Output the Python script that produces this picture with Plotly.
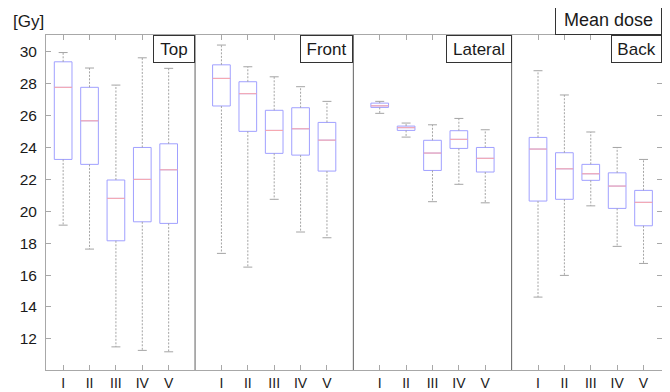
import plotly.graph_objects as go

# ---------------- data ----------------
panels = ["Top", "Front", "Lateral", "Back"]
groups = ["I", "II", "III", "IV", "V"]

# per panel, per group (I..V)
upper = [
    [29.95, 28.98, 27.91, 29.62, 28.96],
    [30.42, 29.06, 28.43, 27.81, 26.89],
    [26.89, 25.53, 25.42, 25.82, 25.11],
    [28.81, 27.29, 24.97, 24.00, 23.25],
]
q3 = [
    [29.37, 27.77, 21.96, 24.00, 24.23],
    [29.18, 28.12, 26.33, 26.49, 25.57],
    [26.78, 25.34, 24.45, 25.05, 24.00],
    [24.63, 23.67, 22.94, 22.41, 21.31],
]
median = [
    [27.77, 25.67, 20.81, 22.00, 22.60],
    [28.33, 27.37, 25.07, 25.17, 24.46],
    [26.61, 25.24, 23.65, 24.51, 23.32],
    [23.90, 22.66, 22.35, 21.58, 20.56],
]
q1 = [
    [23.25, 22.94, 18.15, 19.34, 19.24],
    [26.60, 25.01, 23.63, 23.52, 22.52],
    [26.51, 25.07, 22.56, 23.94, 22.46],
    [20.64, 20.75, 21.94, 20.18, 19.09],
]
lower = [
    [19.13, 17.63, 11.50, 11.28, 11.19],
    [17.36, 16.50, 20.75, 18.70, 18.34],
    [26.14, 24.65, 20.60, 21.69, 20.53],
    [14.62, 15.98, 20.34, 17.80, 16.73],
]
y_ticks = [12, 14, 16, 18, 20, 22, 24, 26, 28, 30]
unit_label = "[Gy]"
title_label = "Mean dose"

# ---------------- layout params ----------------
BOX_W = 0.67
CAP_HALF = 0.17
BOX_COLOR = "#a0a0ff"
MED_COLOR = "#ffa8a8"
WHISK_COLOR = "#a4a4a4"
FRAME_COLOR = "#a8a8a8"
DIV_COLOR = "#606060"
FONT = "Liberation Sans, Arial, sans-serif"
TEXT_COLOR = "#1a1a1a"

# the page body has an 8px margin, so the figure is offset by (8, 8)
OFF = 8
W, H = 670 - OFF, 392 - OFF
ML, MR, MT, MB = 46 - OFF, 8, 35 - OFF, 22
PW = W - ML - MR
PH = H - MT - MB

# positions: 1..5, 7..11, 13..17, 19..23
positions = []
for p in range(len(panels)):
    positions.append([p * 6 + g + 1 for g in range(len(groups))])

fig = go.Figure()

flat_x, flat_q1, flat_med, flat_q3 = [], [], [], []
for p in range(len(panels)):
    flat_x += positions[p]
    flat_q1 += q1[p]
    flat_med += median[p]
    flat_q3 += q3[p]

wx, wy = [], []
cx, cy = [], []
mx, my = [], []
for p in range(len(panels)):
    for g in range(len(groups)):
        x0 = positions[p][g]
        wx += [x0, x0, None, x0, x0, None]
        wy += [q3[p][g], upper[p][g], None, q1[p][g], lower[p][g], None]
        cx += [x0 - CAP_HALF, x0 + CAP_HALF, None, x0 - CAP_HALF, x0 + CAP_HALF, None]
        cy += [upper[p][g], upper[p][g], None, lower[p][g], lower[p][g], None]
        mx += [x0 - BOX_W / 2, x0 + BOX_W / 2, None]
        my += [median[p][g], median[p][g], None]

fig.add_trace(go.Scatter(x=wx, y=wy, mode="lines",
                         line=dict(color=WHISK_COLOR, width=1, dash="2px,1.5px"),
                         hoverinfo="skip", showlegend=False))
fig.add_trace(go.Scatter(x=cx, y=cy, mode="lines",
                         line=dict(color=WHISK_COLOR, width=1),
                         hoverinfo="skip", showlegend=False))

fig.add_trace(go.Box(
    x=flat_x, q1=flat_q1, median=flat_med, q3=flat_q3,
    lowerfence=flat_q1, upperfence=flat_q3,
    width=BOX_W, whiskerwidth=0,
    line=dict(color=BOX_COLOR, width=1),
    fillcolor="rgba(255,255,255,0)",
    boxpoints=False, showlegend=False, hoverinfo="skip",
))

fig.add_trace(go.Scatter(x=mx, y=my, mode="lines",
                         line=dict(color=MED_COLOR, width=1),
                         hoverinfo="skip", showlegend=False))

X_MIN, X_MAX = 0.35, 23.7
Y_MIN, Y_MAX = 10.05, 31.05

shapes = []
for d in [6, 12, 18]:
    shapes.append(dict(type="line", xref="x", yref="paper", x0=d, x1=d, y0=0, y1=1,
                       line=dict(color=DIV_COLOR, width=1)))

annotations = []
label_right = [6, 12, 18, X_MAX]
label_w = [36, 47, 60, 45]
for p, name in enumerate(panels):
    annotations.append(dict(
        text=name, xref="x", yref="paper", x=label_right[p], y=1,
        xanchor="right", yanchor="top", showarrow=False,
        font=dict(family=FONT, size=17, color=TEXT_COLOR),
        bordercolor="#333", borderwidth=1, borderpad=2,
        bgcolor="white", width=label_w[p], height=22,
    ))

annotations.append(dict(
    text=title_label, xref="paper", yref="paper", x=1.0, y=1.0,
    xanchor="right", yanchor="bottom", showarrow=False,
    font=dict(family=FONT, size=18, color=TEXT_COLOR),
    bordercolor="#333", borderwidth=1, borderpad=2,
    bgcolor="white", width=101, height=24,
))
annotations.append(dict(
    text=unit_label, xref="paper", yref="paper",
    x=(11 - 46) / PW, y=1 + (35 - 21) / PH,
    xanchor="left", yanchor="middle", showarrow=False,
    font=dict(family=FONT, size=17, color=TEXT_COLOR),
))

tickvals_x = [v for row in positions for v in row]
ticktext_x = groups * len(panels)

fig.update_layout(
    width=W, height=H,
    margin=dict(l=ML, r=MR, t=MT, b=MB, autoexpand=False),
    paper_bgcolor="white", plot_bgcolor="white",
    shapes=shapes, annotations=annotations,
    font=dict(family=FONT, size=14, color=TEXT_COLOR),
    xaxis=dict(range=[X_MIN, X_MAX], tickvals=tickvals_x, ticktext=ticktext_x,
               ticks="inside", ticklen=5, tickcolor=FRAME_COLOR,
               showline=True, linecolor=FRAME_COLOR, linewidth=1, mirror="ticks",
               showgrid=False, zeroline=False, ticklabelstandoff=0,
               tickfont=dict(family=FONT, size=14, color=TEXT_COLOR)),
    yaxis=dict(range=[Y_MIN, Y_MAX], tickvals=y_ticks,
               ticks="inside", ticklen=5, tickcolor=FRAME_COLOR,
               showline=True, linecolor=FRAME_COLOR, linewidth=1, mirror="ticks",
               showgrid=False, zeroline=False, ticklabelstandoff=5,
               tickfont=dict(family=FONT, size=15.5, color=TEXT_COLOR)),
)

fig.write_html("out.html")
